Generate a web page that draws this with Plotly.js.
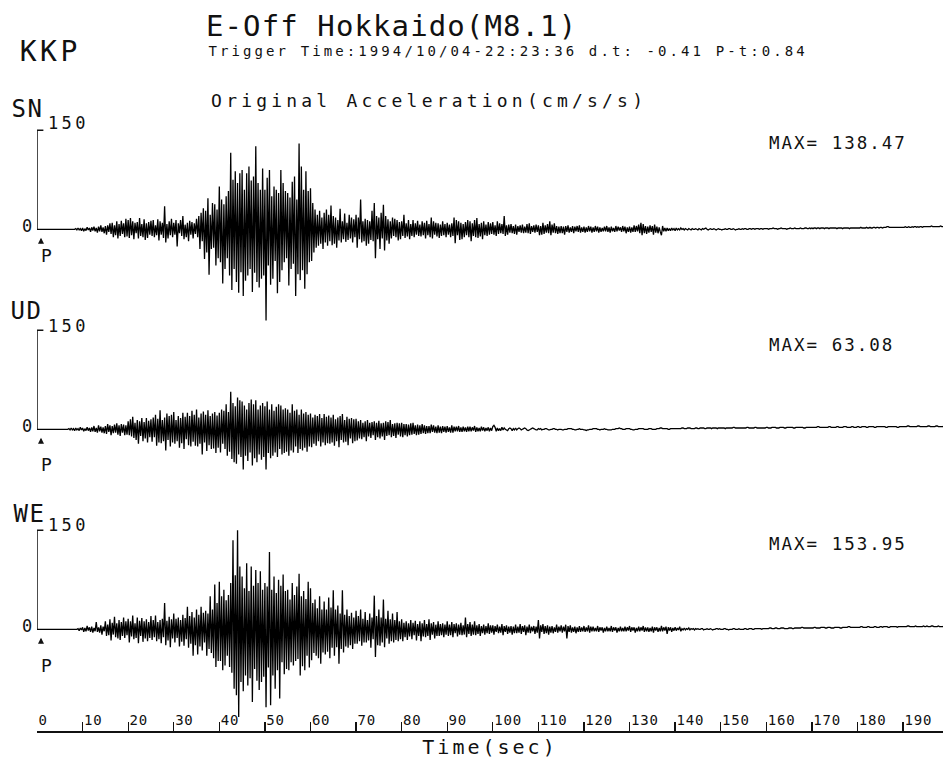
<!DOCTYPE html>
<html><head><meta charset="utf-8">
<script src="https://cdn.plot.ly/plotly-3.0.1.min.js"></script>
<style>html,body{margin:0;padding:0;background:#fff}#chart{width:943px;height:760px}</style>
</head><body><div id="chart"></div>
<script>
// ---------------- data ----------------
const stationName = 'KKP';
const eventTitle = 'E-Off Hokkaido(M8.1)';
const triggerInfo = 'Trigger Time:1994/10/04-22:23:36 d.t: -0.41 P-t:0.84';
const quantityLabel = 'Original Acceleration(cm/s/s)';
const timeTitle = 'Time(sec)';
const components = ['SN', 'UD', 'WE'];
const maxLabels = ['138.47', '63.08', '153.95'];
const scaleValue = 150;
const timeStep = 0.25; // seconds between samples
const timeTicks = [0,10,20,30,40,50,60,70,80,90,100,110,120,130,140,150,160,170,180,190];

const snAcc = [
0,0,0,0,0,0,0,0,0,0,0,0,0,0,0,0,0,0,0,0,
0,0,0,0,0,0,0,0,0,0,0,0,0,0,1,-1,2,-1,1,-2,
2,-3,1,-2,3,-1,2,-4,3,-2,4,-3,2,-5,4,-3,6,-4,3,-6,
5,-8,6,-4,9,-7,10,-12,6,-9,12,-14,8,-10,13,-7,9,-12,16,-11,
14,-13,17,-9,12,-15,10,-6,11,-14,17,-10,8,-12,15,-16,9,-13,11,-8,
13,-10,14,-12,6,-9,15,-17,12,-8,10,-13,35,-20,8,-14,12,-9,16,-12,
10,-8,14,-26,9,-6,14,-10,20,-15,7,-12,10,-18,13,-8,11,-14,9,-7,
16,-12,20,-30,25,-18,32,-45,28,-35,47,-69,22,-30,40,-28,38,-55,30,-44,
65,-50,45,-82,38,-60,50,-44,58,-70,116,-92,75,-60,88,-80,70,-96,85,-65,
90,-101,60,-78,85,-70,95,-60,74,-95,80,-66,126,-80,70,-88,60,-75,92,-70,
60,-138,78,-55,90,-84,50,-75,65,-48,60,-97,55,-80,90,-62,70,-50,58,-44,
55,-85,48,-60,72,-52,80,-101,45,-68,130,-77,95,-62,60,-90,88,-68,58,-50,
62,-48,40,-35,30,-28,22,-25,28,-22,18,-30,25,-20,30,-25,22,-18,36,-24,
20,-22,18,-28,14,-17,31,-20,12,-15,24,-19,10,-16,22,-14,18,-20,15,-12,
22,-28,18,-15,45,-20,12,-18,16,-25,14,-22,12,-16,28,-18,40,-44,20,-15,
18,-30,25,-14,37,-32,20,-17,15,-22,12,-14,18,-10,16,-12,14,-17,11,-15,
12,-10,22,-13,9,-11,14,-15,8,-10,14,-12,9,-8,13,-10,7,-11,12,-9,
10,-14,13,-9,8,-12,18,-14,12,-8,10,-11,9,-13,7,-10,12,-9,8,-12,
10,-8,7,-12,9,-10,18,-21,14,-9,12,-16,10,-15,8,-12,11,-9,14,-12,
12,-18,9,-10,14,-12,17,-13,8,-11,10,-15,12,-9,7,-10,11,-8,9,-7,
11,-8,6,-10,12,-7,9,-6,8,-7,20,-10,6,-8,7,-5,8,-6,5,-7,
7,-8,5,-4,6,-5,7,-6,4,-5,8,-6,9,-7,5,-4,6,-5,7,-4,
6,-9,5,-8,10,-7,6,-5,8,-6,12,-9,7,-5,9,-6,5,-7,4,-6,
5,-6,4,-8,5,-4,6,-5,3,-4,5,-6,4,-3,5,-4,6,-5,3,-4,
4,-5,3,-4,5,-3,4,-5,3,-4,5,-3,4,-5,3,-4,2,-3,4,-3,
5,-4,3,-5,4,-3,2,-4,5,-3,4,-2,3,-4,5,-3,4,-6,3,-4,
4,-5,3,-4,6,-4,5,-3,7,-6,10,-9,8,-6,5,-7,4,-5,6,-4,
5,-8,7,-5,4,-6,3,-4,-9,5,-3,2,-3,2,-2,1,-2,2,-1,1,
-2,2,-1,1,-1,2,0,1,-1,1,0,-1,1,0,-1,1,0,0,1,0,
-1,1,0,-1,1,0,1,2,0,-1,0,1,0,0,1,0,-1,0,1,0,
0,-1,0,0,1,0,0,1,1,0,0,1,0,-1,0,0,1,0,0,1,
0,1,1,0,0,1,1,0,1,1,0,1,1,1,0,1,1,0,1,1,
1,1,0,1,1,1,2,1,1,1,0,1,1,2,1,1,1,1,0,1,
1,2,1,1,1,2,1,1,1,1,2,1,1,1,2,2,1,1,2,1,
2,1,2,2,1,2,2,1,2,2,2,1,2,2,2,1,2,2,2,2,
2,2,1,2,2,2,2,1,2,2,2,2,2,1,2,2,2,2,2,2,
2,2,2,3,2,2,2,2,3,2,2,3,2,2,3,3,2,3,3,2,
3,3,2,3,3,3,4,4,3,3,3,3,3,3,3,3,3,3,3,3,
3,3,4,3,3,4,3,3,4,3,4,4,3,4,3,4,4,3,4,4,
4,4,4,4,4,5,4,4,4,4,4,4,4,5,4,4,4,4,4,4
];

const udAcc = [
0,0,0,0,0,0,0,0,0,0,0,0,0,0,0,0,0,0,0,0,
0,0,0,0,0,0,0,0,1,-1,2,-1,1,-2,2,-1,1,-2,3,-1,
2,-3,1,-2,3,-2,2,-4,3,-3,5,-4,2,-5,6,-3,4,-5,3,-6,
5,-7,8,-4,6,-9,5,-6,7,-5,9,-8,6,-10,8,-5,7,-9,6,-8,
12,-9,15,-11,19,-13,10,-16,14,-22,12,-10,17,-18,11,-14,17,-20,13,-12,
15,-19,18,-12,22,-25,16,-20,29,-21,14,-18,18,-32,24,-16,20,-26,22,-20,
26,-22,14,-18,20,-28,17,-21,25,-30,19,-15,25,-24,20,-26,28,-19,22,-25,
30,-26,18,-22,24,-38,27,-20,22,-33,29,-24,20,-30,24,-29,26,-36,21,-28,
25,-35,30,-22,28,-30,38,-40,26,-34,57,-45,40,-50,35,-52,48,-38,44,-42,
42,-61,36,-40,30,-48,40,-35,45,-55,38,-44,44,-50,30,-38,36,-46,40,-42,
35,-61,42,-36,30,-44,38,-40,28,-35,34,-42,38,-30,36,-38,30,-36,32,-34,
30,-40,25,-32,38,-35,28,-26,30,-36,22,-30,30,-32,24,-28,26,-34,22,-26,
24,-27,18,-22,22,-25,20,-18,23,-26,17,-20,23,-24,19,-21,21,-22,18,-20,
22,-25,15,-18,18,-27,20,-16,23,-20,14,-19,19,-24,16,-14,17,-21,15,-18,
16,-17,12,-14,14,-15,10,-12,12,-18,14,-11,10,-13,11,-9,12,-16,10,-12,
13,-14,9,-11,10,-16,12,-10,11,-9,14,-12,8,-10,9,-13,10,-8,9,-11,
10,-12,8,-9,8,-11,7,-9,9,-8,10,-7,6,-9,7,-8,6,-7,8,-6,
6,-7,5,-6,5,-6,7,-4,6,-5,4,-6,6,-5,4,-6,5,-4,4,-5,
5,-4,3,-5,6,-5,4,-3,4,-3,5,-4,3,-4,4,-3,3,-4,4,-3,
4,-3,3,-2,5,-4,3,-3,2,-3,4,-2,3,-3,2,-2,3,-3,2,-2,
4,6,3,-3,2,-2,1,-2,3,-1,2,0,-1,-2,1,2,1,-2,1,-1,
2,-1,1,2,1,-1,0,1,2,1,-1,-2,-1,0,1,2,1,0,-1,-1,
1,0,1,-1,0,0,1,1,0,-1,-1,0,0,1,1,0,0,-1,0,0,
0,-1,-1,0,0,0,1,1,1,1,0,0,-1,-1,0,0,1,0,0,0,
-1,-1,-2,-1,-1,0,0,0,1,1,1,1,0,0,-1,0,0,0,1,0,
0,-1,-1,-1,-1,0,0,0,1,1,1,2,1,1,0,0,0,1,1,1,
1,0,0,-1,-1,0,0,0,1,1,1,1,1,0,0,0,0,1,1,1,
0,0,0,0,1,1,1,2,2,1,1,1,1,1,0,0,1,1,1,1,
1,1,1,1,1,1,2,2,1,1,1,2,2,2,1,1,1,1,2,2,
1,1,2,2,2,2,1,1,2,2,2,2,1,2,2,2,2,1,2,2,
2,2,2,2,1,2,2,2,2,2,2,3,3,2,2,2,2,2,2,2,
2,2,2,3,3,2,2,2,2,2,3,3,2,2,2,2,2,2,2,2,
3,3,2,2,2,3,3,3,3,2,2,2,3,3,3,3,2,2,3,3,
3,3,3,3,2,2,3,3,3,3,3,3,3,2,2,3,3,3,3,3,
3,3,3,3,3,4,4,3,3,3,3,3,3,3,3,4,4,3,3,3,
3,3,4,4,3,3,3,3,4,4,4,3,3,3,3,4,4,3,3,3,
4,4,3,3,4,4,4,4,3,3,4,4,4,4,4,3,3,4,4,4,
4,4,4,4,4,3,3,4,4,4,4,4,4,4,4,3,3,4,4,4,
4,4,4,4,5,5,4,4,4,4,4,4,4,5,5,4,4,4,4,4,
4,4,5,5,4,4,4,4,4,5,5,4,4,4,4,4,5,5,4,4
];

const weAcc = [
0,0,0,0,0,0,0,0,0,0,0,0,0,0,0,0,0,0,0,0,
0,0,0,0,0,0,0,0,0,0,0,0,0,0,0,0,1,-2,2,-1,
3,-4,2,-3,5,-2,3,-4,4,-5,2,-3,11,-4,3,-5,6,-8,4,-3,
12,-10,7,-9,15,-17,10,-8,19,-12,9,-14,14,-16,11,-10,18,-13,12,-9,
16,-20,12,-11,21,-15,9,-13,18,-21,13,-10,17,-19,12,-14,15,-18,11,-13,
20,-16,14,-12,21,-18,11,-15,14,-21,16,-12,40,-24,13,-17,19,-27,15,-14,
24,-20,16,-13,18,-26,14,-19,22,-25,17,-15,34,-28,20,-22,26,-40,18,-24,
30,-38,22,-26,34,-32,25,-20,28,-40,24,-30,50,-36,30,-44,68,-57,40,-48,
72,-48,50,-62,60,-55,44,-40,52,-57,70,-66,135,-90,82,-100,150,-133,95,-80,
80,-94,62,-70,100,-85,58,-74,95,-110,66,-60,90,-78,70,-92,88,-80,60,-72,
70,-118,65,-58,117,-115,60,-70,80,-90,55,-62,75,-105,66,-50,83,-68,58,-60,
60,-62,45,-50,70,-55,52,-48,65,-45,84,-70,50,-56,58,-62,46,-40,72,-58,
62,-47,40,-36,45,-40,32,-44,50,-52,30,-35,42,-38,30,-34,48,-44,33,-28,
59,-40,30,-27,36,-52,24,-30,59,-35,22,-26,30,-28,20,-24,25,-30,18,-22,
28,-22,20,-18,30,-25,16,-20,26,-20,14,-17,24,-28,18,-15,51,-42,20,-24,
30,-25,18,-20,45,-27,16,-14,28,-22,15,-18,24,-20,14,-16,26,-18,12,-15,
15,-18,10,-12,12,-16,9,-11,14,-15,10,-9,13,-17,8,-10,12,-18,9,-11,
14,-12,8,-10,15,-16,9,-8,11,-14,7,-10,12,-10,8,-9,9,-12,7,-8,
12,-10,7,-9,11,-12,8,-6,9,-11,7,-8,10,-9,6,-8,18,-12,8,-7,
11,-10,7,-8,12,-9,6,-7,8,-10,5,-6,7,-8,5,-6,9,-7,6,-5,
6,-8,5,-4,7,-6,4,-5,8,-9,5,-4,6,-7,4,-5,5,-8,4,-6,
7,-6,4,-5,8,-7,5,-4,6,-9,4,-5,7,-6,4,-3,5,-7,4,-5,
14,-14,6,-4,8,-7,5,-6,6,-8,4,-5,5,-6,3,-4,7,-5,4,-3,
6,-5,4,-3,7,-14,5,-4,6,-5,3,-4,4,-6,3,-4,5,-4,3,-3,
5,-4,3,-3,6,-5,4,-3,4,-3,2,-3,5,-4,3,-2,3,-5,2,-3,
4,-3,2,-3,5,-4,3,-2,3,-5,2,-3,4,-3,2,-3,4,-3,3,-2,
5,-4,3,-2,3,-5,2,-3,4,-3,3,-2,5,-4,3,-3,3,-4,2,-3,
4,-5,3,-2,3,-4,2,-3,5,-3,3,-2,4,-7,3,-2,3,-4,2,-2,
3,-2,2,-1,4,-3,1,-1,2,-1,1,0,2,-1,1,0,1,-1,1,0,
1,0,0,1,1,-1,0,0,1,0,0,1,0,-1,0,0,1,1,0,1,
0,0,0,1,1,0,0,-1,0,0,0,1,1,0,0,0,1,0,0,0,
0,1,1,0,0,1,1,1,0,0,1,1,1,1,1,1,0,1,1,1,
1,1,1,2,2,1,1,1,2,2,1,1,1,2,2,2,1,1,1,1,
2,2,2,1,1,2,2,2,2,2,2,3,3,2,2,2,2,2,2,2,
2,2,3,3,2,2,2,2,3,3,3,3,2,2,3,3,3,2,2,2,
3,3,3,3,3,2,2,3,3,3,3,3,4,4,3,3,3,3,3,3,
3,3,3,4,4,3,3,3,3,4,4,3,3,3,3,4,4,3,3,3,
4,4,3,4,4,4,4,3,3,4,4,4,4,4,4,3,4,4,4,4,
4,4,4,4,5,5,4,4,4,4,4,5,4,4,4,4,4,4,5,4,
4,5,4,4,4,5,5,4,4,4,4,5,4,4,4,4,5,4,4,5
];

const series = [snAcc, udAcc, weAcc];

// ---------------- layout geometry (pixels) ----------------
const W = 943, H = 760, L = 37;
const pxPerSec = 4.558;
const pxPerUnit = 0.66;
const halfRange = 170;
const bases = [229.3, 429.3, 629.3];
const axisY = 731;
const FONT = 'DejaVu Sans Mono';
const INK = '#111';
const px2x = px => (px - L) / (W - L);
const py2y = py => 1 - py / H;
const xMax = (W - L) / pxPerSec;

const traces = series.map((arr, i) => ({
  type: 'scatter', mode: 'lines',
  x: arr.map((_, j) => j * timeStep), y: arr,
  xaxis: 'x', yaxis: i === 0 ? 'y' : 'y' + (i + 1),
  line: {color: '#000', width: 1.3, simplify: false},
  hoverinfo: 'skip', showlegend: false
}));

const layout = {
  width: W, height: H,
  margin: {l: L, r: 0, t: 0, b: 0},
  paper_bgcolor: '#fff', plot_bgcolor: 'rgba(0,0,0,0)',
  showlegend: false, hovermode: false,
  xaxis: {
    range: [0, xMax], anchor: 'free', position: py2y(axisY),
    showline: true, linewidth: 1.5, linecolor: INK,
    ticks: 'inside', ticklen: 9, tickwidth: 1.3, tickcolor: INK,
    tickvals: timeTicks, ticktext: timeTicks.map(String),
    ticklabelposition: 'inside right',
    tickfont: {family: FONT, size: 14, color: INK},
    showgrid: false, zeroline: false,
    title: {text: timeTitle, font: {family: FONT, size: 20, color: INK}, standoff: 13}
  },
  shapes: [], annotations: []
};

const lsList = [];
function addText(text, cx, cy, size, ls) {
  layout.annotations.push({
    text: text, xref: 'paper', yref: 'paper', x: px2x(cx), y: py2y(cy),
    xanchor: 'center', yanchor: 'middle', showarrow: false,
    font: {family: FONT, size: size, color: INK}
  });
  lsList.push(ls);
}

addText(eventTitle, 391, 26, 29, 1.1);
addText(stationName, 50, 51, 28, 3.5);
addText(triggerInfo, 508, 51, 14, 3.1);
addText(quantityLabel, 429, 100.5, 18, 4.2);

const nameCx = [27.5, 26.5, 29], nameCy = [109, 311, 514];
const scaleCy = [123, 326, 525];
const pCy = [255, 464, 665];
const maxCx = [837.5, 831.5, 837.5], maxCy = [143, 345, 544];

components.forEach((c, i) => {
  const yname = i === 0 ? 'y' : 'y' + (i + 1);
  const ykey = i === 0 ? 'yaxis' : 'yaxis' + (i + 1);
  const b = bases[i];
  layout[ykey] = {
    domain: [py2y(b + halfRange * pxPerUnit), py2y(b - halfRange * pxPerUnit)],
    range: [-halfRange, halfRange], visible: false, fixedrange: true
  };
  layout.shapes.push({type: 'line', xref: 'x', yref: yname, x0: 0, x1: 0, y0: 0, y1: scaleValue,
    line: {color: INK, width: 1.5}});
  layout.shapes.push({type: 'line', xref: 'x', yref: yname, x0: 0, x1: 1.4, y0: scaleValue, y1: scaleValue,
    line: {color: INK, width: 1.5}});
  addText(c, nameCx[i], nameCy[i], 24, 1.5);
  addText(String(scaleValue), 68, scaleCy[i], 17, 3.3);
  addText('0', 27, b - 3.5, 17, 0);
  addText('P', 46, pCy[i], 18, 0);
  addText('MAX= ' + maxLabels[i], maxCx[i], maxCy[i], 17.5, 2);
  // P arrival arrow
  layout.annotations.push({
    text: '', xref: 'paper', yref: 'paper', x: px2x(41), y: py2y(b + 8.5),
    ax: 0, ay: 7, showarrow: true, arrowhead: 2, arrowsize: 1, arrowwidth: 1.2,
    arrowcolor: INK, standoff: 0, startstandoff: 0
  });
  lsList.push(0);
});

Plotly.newPlot('chart', traces, layout, {staticPlot: true}).then(gd => {
  lsList.forEach((ls, i) => {
    if (!ls) return;
    const t = gd.querySelector('.annotation[data-index="' + i + '"] .annotation-text');
    if (t) t.style.letterSpacing = ls + 'px';
  });
  gd.querySelectorAll('.xtick text').forEach(t => t.style.letterSpacing = '0.8px');
  const xt = gd.querySelector('.g-xtitle text');
  if (xt) xt.style.letterSpacing = '3px';
});
</script>
</body></html>
